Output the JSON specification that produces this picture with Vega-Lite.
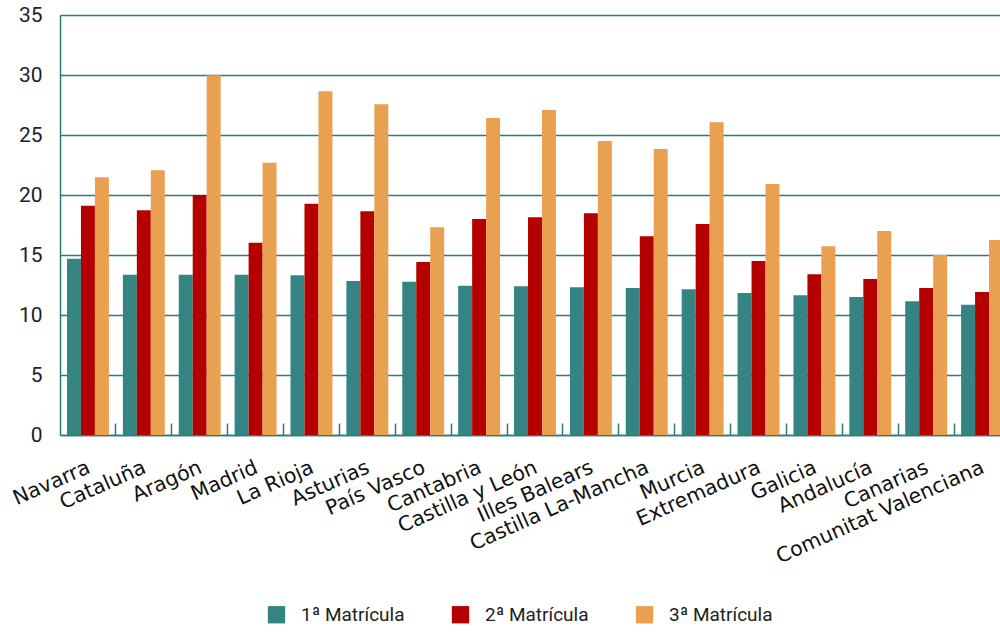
{
  "$schema": "https://vega.github.io/schema/vega-lite/v6.json",
  "width": 940,
  "height": 420,
  "autosize": {"type": "none"},
  "padding": {"left": 60, "top": 15, "right": 0, "bottom": 197},
  "background": "white",
  "config": {"view": {"stroke": null}, "font": "Roboto"},
  "data": {"values": [
    {"region": "Navarra", "tipo": "1ª Matrícula", "value": 14.69},
    {"region": "Navarra", "tipo": "2ª Matrícula", "value": 19.11},
    {"region": "Navarra", "tipo": "3ª Matrícula", "value": 21.47},
    {"region": "Cataluña", "tipo": "1ª Matrícula", "value": 13.36},
    {"region": "Cataluña", "tipo": "2ª Matrícula", "value": 18.72},
    {"region": "Cataluña", "tipo": "3ª Matrícula", "value": 22.06},
    {"region": "Aragón", "tipo": "1ª Matrícula", "value": 13.36},
    {"region": "Aragón", "tipo": "2ª Matrícula", "value": 20.0},
    {"region": "Aragón", "tipo": "3ª Matrícula", "value": 29.97},
    {"region": "Madrid", "tipo": "1ª Matrícula", "value": 13.36},
    {"region": "Madrid", "tipo": "2ª Matrícula", "value": 16.03},
    {"region": "Madrid", "tipo": "3ª Matrícula", "value": 22.69},
    {"region": "La Rioja", "tipo": "1ª Matrícula", "value": 13.31},
    {"region": "La Rioja", "tipo": "2ª Matrícula", "value": 19.28},
    {"region": "La Rioja", "tipo": "3ª Matrícula", "value": 28.64},
    {"region": "Asturias", "tipo": "1ª Matrícula", "value": 12.83},
    {"region": "Asturias", "tipo": "2ª Matrícula", "value": 18.64},
    {"region": "Asturias", "tipo": "3ª Matrícula", "value": 27.56},
    {"region": "País Vasco", "tipo": "1ª Matrícula", "value": 12.78},
    {"region": "País Vasco", "tipo": "2ª Matrícula", "value": 14.42},
    {"region": "País Vasco", "tipo": "3ª Matrícula", "value": 17.31},
    {"region": "Cantabria", "tipo": "1ª Matrícula", "value": 12.44},
    {"region": "Cantabria", "tipo": "2ª Matrícula", "value": 18.0},
    {"region": "Cantabria", "tipo": "3ª Matrícula", "value": 26.42},
    {"region": "Castilla y León", "tipo": "1ª Matrícula", "value": 12.39},
    {"region": "Castilla y León", "tipo": "2ª Matrícula", "value": 18.14},
    {"region": "Castilla y León", "tipo": "3ª Matrícula", "value": 27.08},
    {"region": "Illes Balears", "tipo": "1ª Matrícula", "value": 12.31},
    {"region": "Illes Balears", "tipo": "2ª Matrícula", "value": 18.47},
    {"region": "Illes Balears", "tipo": "3ª Matrícula", "value": 24.5},
    {"region": "Castilla La-Mancha", "tipo": "1ª Matrícula", "value": 12.25},
    {"region": "Castilla La-Mancha", "tipo": "2ª Matrícula", "value": 16.56},
    {"region": "Castilla La-Mancha", "tipo": "3ª Matrícula", "value": 23.83},
    {"region": "Murcia", "tipo": "1ª Matrícula", "value": 12.14},
    {"region": "Murcia", "tipo": "2ª Matrícula", "value": 17.58},
    {"region": "Murcia", "tipo": "3ª Matrícula", "value": 26.06},
    {"region": "Extremadura", "tipo": "1ª Matrícula", "value": 11.83},
    {"region": "Extremadura", "tipo": "2ª Matrícula", "value": 14.5},
    {"region": "Extremadura", "tipo": "3ª Matrícula", "value": 20.92},
    {"region": "Galicia", "tipo": "1ª Matrícula", "value": 11.64},
    {"region": "Galicia", "tipo": "2ª Matrícula", "value": 13.39},
    {"region": "Galicia", "tipo": "3ª Matrícula", "value": 15.72},
    {"region": "Andalucía", "tipo": "1ª Matrícula", "value": 11.5},
    {"region": "Andalucía", "tipo": "2ª Matrícula", "value": 13.0},
    {"region": "Andalucía", "tipo": "3ª Matrícula", "value": 17.0},
    {"region": "Canarias", "tipo": "1ª Matrícula", "value": 11.14},
    {"region": "Canarias", "tipo": "2ª Matrícula", "value": 12.25},
    {"region": "Canarias", "tipo": "3ª Matrícula", "value": 15.0},
    {"region": "Comunitat Valenciana", "tipo": "1ª Matrícula", "value": 10.86},
    {"region": "Comunitat Valenciana", "tipo": "2ª Matrícula", "value": 11.92},
    {"region": "Comunitat Valenciana", "tipo": "3ª Matrícula", "value": 16.25}
  ]},
  "mark": {"type": "bar", "clip": true},
  "encoding": {
    "x": {
      "field": "region", "type": "nominal", "sort": null, "title": null,
      "scale": {"range": [0, 950], "paddingInner": 0.25, "paddingOuter": 0.125},
      "axis": {
        "labelAngle": -24, "labelAlign": "right", "labelBaseline": "top",
        "labelFont": "DejaVu Sans", "labelFontSize": 20.5, "labelColor": "#111111",
        "labelOverlap": false, "labelLimit": 400, "labelOffset": -3,
        "domainColor": "#2D7A77", "domainWidth": 1.5,
        "tickColor": "#2D7A77", "tickSize": -12, "tickWidth": 1.5,
        "bandPosition": 1.1667, "labelPadding": 34, "grid": false
      }
    },
    "xOffset": {
      "field": "tipo", "type": "nominal",
      "sort": ["1ª Matrícula", "2ª Matrícula", "3ª Matrícula"],
      "scale": {"paddingInner": 0, "paddingOuter": 0}
    },
    "y": {
      "field": "value", "type": "quantitative", "title": null,
      "scale": {"domain": [0, 35], "nice": false},
      "axis": {
        "values": [0, 5, 10, 15, 20, 25, 30, 35],
        "ticks": false, "domain": true,
        "domainColor": "#2D7A77", "domainWidth": 1.5,
        "grid": true, "gridColor": "#2D7A77", "gridWidth": 1.5,
        "labelFont": "Roboto", "labelFontSize": 21, "labelPadding": 18, "labelColor": "#222222"
      }
    },
    "color": {
      "field": "tipo", "type": "nominal",
      "scale": {
        "domain": ["1ª Matrícula", "2ª Matrícula", "3ª Matrícula"],
        "range": ["#348582", "#B40000", "#E9A050"]
      },
      "legend": {
        "orient": "none", "legendX": 207, "legendY": 590,
        "direction": "horizontal", "title": null,
        "symbolType": "square", "symbolSize": 300, "symbolStrokeWidth": 0,
        "labelFont": "Roboto", "labelFontSize": 19, "labelColor": "#222222",
        "labelOffset": 15, "columnPadding": 46
      }
    }
  }
}
